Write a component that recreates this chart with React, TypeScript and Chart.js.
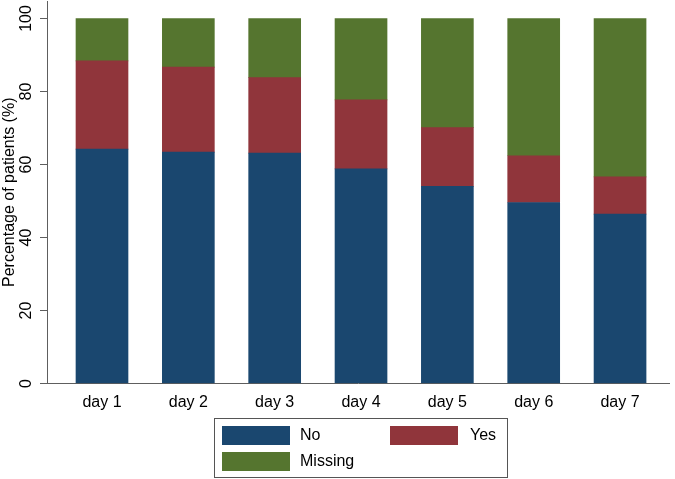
import React, { useEffect, useRef } from "react";
import { Chart, registerables } from "chart.js";

Chart.register(...registerables);

const days = ["day 1", "day 2", "day 3", "day 4", "day 5", "day 6", "day 7"];
const noValues = [64.2, 63.4, 63.1, 58.8, 54.0, 49.6, 46.4];
const yesValues = [24.2, 23.3, 20.7, 18.9, 16.1, 12.8, 10.2];
const missingValues = [11.6, 13.3, 16.2, 22.3, 29.9, 37.6, 43.4];
const yTicks = [0, 20, 40, 60, 80, 100];

const FONT = "'Liberation Sans', Arial, Helvetica, sans-serif";
const NAVY = "#1a476f";
const MAROON = "#90353b";
const GREEN = "#55752f";
const AXIS = "#5e5e5e";

const toPoints = (vals: number[]) => vals.map((y, i) => ({ x: i, y }));

const legendPlugin = {
  id: "stataLegend",
  afterDraw(chart: any) {
    const ctx = chart.ctx as CanvasRenderingContext2D;
    const ds = chart.data.datasets;
    const box = { left: 214, top: 418, width: 294, height: 60 };
    const slots = [
      { sx: 222, sy: 426, tx: 300 },
      { sx: 390, sy: 426, tx: 470 },
      { sx: 222, sy: 452, tx: 300 },
    ];
    ctx.save();
    ctx.strokeStyle = "#555555";
    ctx.lineWidth = 1;
    ctx.strokeRect(box.left + 0.5, box.top + 0.5, box.width - 1, box.height - 1);
    ctx.font = `16px ${FONT}`;
    ctx.textBaseline = "middle";
    ctx.textAlign = "left";
    ds.forEach((d: any, i: number) => {
      const s = slots[i];
      if (!s) return;
      ctx.fillStyle = d.backgroundColor;
      ctx.fillRect(s.sx, s.sy, 68, 19);
      ctx.fillStyle = "#000";
      ctx.fillText(d.label, s.tx, s.sy + 10);
    });
    ctx.restore();
  },
};

export default function App() {
  const ref = useRef<HTMLCanvasElement | null>(null);

  useEffect(() => {
    if (!ref.current) return;
    const chart = new Chart(ref.current, {
      type: "bar",
      data: {
        datasets: [
          { label: "No", data: toPoints(noValues), backgroundColor: NAVY, borderColor: NAVY, borderWidth: 0 },
          { label: "Yes", data: toPoints(yesValues), backgroundColor: MAROON, borderColor: MAROON, borderWidth: 0 },
          { label: "Missing", data: toPoints(missingValues), backgroundColor: GREEN, borderColor: GREEN, borderWidth: 0 },
        ],
      },
      options: {
        animation: false,
        responsive: false,
        maintainAspectRatio: false,
        layout: { padding: { left: 0, right: 6, top: 1, bottom: 0 } },
        datasets: { bar: { barThickness: 52 } },
        plugins: {
          legend: { display: false },
          tooltip: { enabled: false },
        },
        scales: {
          x: {
            type: "linear",
            stacked: true,
            offset: false,
            min: -0.637,
            max: 6.567,
            grid: { display: false, drawTicks: false, offset: false },
            border: { display: true, color: AXIS, width: 1 },
            afterBuildTicks: (scale: any) => {
              scale.ticks = days.map((_, i) => ({ value: i }));
            },
            afterFit: (scale: any) => {
              scale.height = 95.5;
              scale.paddingLeft = 0;
              scale.paddingRight = 0;
            },
            ticks: {
              padding: 9,
              color: "#000",
              font: { family: FONT, size: 16 },
              maxRotation: 0,
              autoSkip: false,
              callback: (v: any) => days[v as number] ?? "",
            },
          },
          y: {
            type: "linear",
            stacked: true,
            min: 0,
            max: 104.8,
            grid: { display: true, drawOnChartArea: false, drawTicks: true, tickLength: 7, color: AXIS, lineWidth: 1 },
            border: { display: true, color: AXIS, width: 1 },
            afterBuildTicks: (scale: any) => {
              scale.ticks = yTicks.map((v) => ({ value: v }));
            },
            afterFit: (scale: any) => {
              scale.width = 47;
              scale.paddingTop = 0;
              scale.paddingBottom = 0;
            },
            title: {
              display: true,
              text: "Percentage of patients (%)",
              color: "#000",
              font: { family: FONT, size: 16 },
              padding: 0,
            },
            ticks: {
              color: "#000",
              font: { family: FONT, size: 16 },
              minRotation: 90,
              maxRotation: 90,
              crossAlign: "center",
              padding: 0,
            },
          },
        },
      },
      plugins: [legendPlugin],
    });
    return () => chart.destroy();
  }, []);

  return (
    <div style={{ position: "fixed", left: 0, top: 0, width: 675, height: 479, background: "#fff" }}>
      <canvas ref={ref} width={675} height={479} style={{ width: 675, height: 479 }} />
    </div>
  );
}
